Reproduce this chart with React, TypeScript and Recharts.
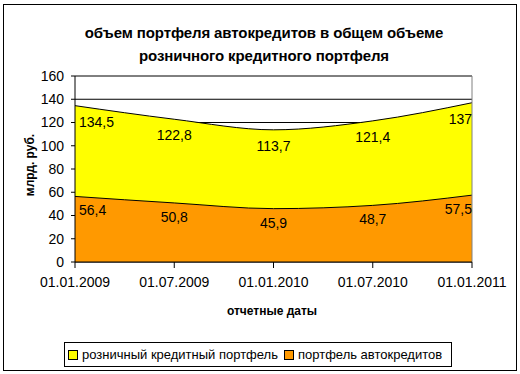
import * as React from "react";
import { Area, AreaChart, CartesianGrid, ReferenceLine, XAxis, YAxis } from "recharts";

// отчетные даты и значения (млрд. руб.)
const DATES = ["01.01.2009", "01.07.2009", "01.01.2010", "01.07.2010", "01.01.2011"];
const RETAIL = [134.5, 122.8, 113.7, 121.4, 137];
const AUTO = [56.4, 50.8, 45.9, 48.7, 57.5];
const Y_TICKS = [0, 20, 40, 60, 80, 100, 120, 140, 160];

const FONT = '"Liberation Sans", Arial, sans-serif';
const YELLOW = "#FFFF00";
const ORANGE = "#FF9900";

const rows = DATES.map((d, i) => ({ date: d, retail: RETAIL[i], auto: AUTO[i] }));

const fmt = (v: number) => String(v).replace(".", ",");

function makeLabel(dy: number) {
  return (p: any) => {
    const last = p.index === DATES.length - 1;
    const first = p.index === 0;
    const anchor = first ? "start" : last ? "end" : "middle";
    const x = first ? p.x + 4 : p.x;
    return (
      <text
        key={p.index}
        x={x}
        y={p.y + dy}
        textAnchor={anchor}
        dominantBaseline="central"
        fontSize={14}
        fontFamily={FONT}
        fill="#000"
      >
        {fmt(p.value)}
      </text>
    );
  };
}

export default function App() {
  return (
    <div style={{ position: "absolute", left: 0, top: 0, width: 520, height: 374, background: "#fff", fontFamily: FONT }}>
      <div style={{ position: "absolute", left: 3, top: 4, width: 512, height: 365, border: "1px solid #000" }} />
      <div
        style={{
          position: "absolute",
          left: 0,
          top: 21,
          width: 528,
          textAlign: "center",
          fontWeight: "bold",
          fontSize: 15,
          lineHeight: "23px",
          letterSpacing: -0.1,
        }}
      >
        объем портфеля автокредитов в общем объеме
        <br />
        розничного кредитного портфеля
      </div>
      <AreaChart
        width={520}
        height={374}
        data={rows}
        margin={{ top: 76, right: 48, bottom: 72, left: 0 }}
        style={{ position: "absolute", left: 0, top: 0 }}
      >
        <CartesianGrid stroke="#000" vertical={false} />
        <XAxis
          dataKey="date"
          height={40}
          tick={{ fontSize: 14, fill: "#000", fontFamily: FONT }}
          tickLine={{ stroke: "#000" }}
          tickSize={6}
          tickMargin={9}
          axisLine={{ stroke: "#000" }}
          interval={0}
        />
        <YAxis
          width={75}
          domain={[0, 160]}
          ticks={Y_TICKS}
          tick={{ fontSize: 14, fill: "#000", fontFamily: FONT }}
          tickLine={{ stroke: "#000" }}
          tickSize={4}
          tickMargin={7}
          axisLine={{ stroke: "#000" }}
        />
        <Area
          type="monotone"
          dataKey="retail"
          fill={YELLOW}
          fillOpacity={1}
          stroke="#000"
          strokeWidth={1}
          isAnimationActive={false}
          label={makeLabel(16)}
        />
        <Area
          type="monotone"
          dataKey="auto"
          fill={ORANGE}
          fillOpacity={1}
          stroke="#000"
          strokeWidth={1}
          isAnimationActive={false}
          label={makeLabel(14)}
        />
        <ReferenceLine y={160} stroke="#808080" />
        <ReferenceLine x="01.01.2011" stroke="#808080" />
      </AreaChart>
      <div
        style={{
          position: "absolute",
          left: 30,
          top: 165,
          transform: "translate(-50%, -50%) rotate(-90deg)",
          fontWeight: "bold",
          fontSize: 12,
          whiteSpace: "nowrap",
        }}
      >
        млрд. руб.
      </div>
      <div
        style={{
          position: "absolute",
          left: 272,
          top: 311,
          transform: "translate(-50%, -50%)",
          fontWeight: "bold",
          fontSize: 12,
          whiteSpace: "nowrap",
        }}
      >
        отчетные даты
      </div>
      <div
        style={{
          position: "absolute",
          left: 64,
          top: 342,
          width: 386,
          height: 23,
          border: "1px solid #000",
          display: "flex",
          alignItems: "center",
          fontSize: 13,
          whiteSpace: "nowrap",
        }}
      >
        <span style={{ width: 8, height: 8, marginLeft: 3, marginRight: 4, background: YELLOW, border: "1px solid #000" }} />
        <span>розничный кредитный портфель</span>
        <span style={{ width: 8, height: 8, marginLeft: 6, marginRight: 4, background: ORANGE, border: "1px solid #000" }} />
        <span>портфель автокредитов</span>
      </div>
    </div>
  );
}
